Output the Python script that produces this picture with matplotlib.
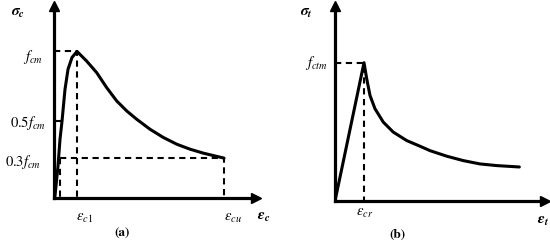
import matplotlib

matplotlib.use("Agg")
import matplotlib.pyplot as plt

plt.rcParams["mathtext.fontset"] = "stix"
plt.rcParams["font.family"] = "STIXGeneral"

W, H = 550, 251

# (a) compression: strain / eps_c1, stress / f_cm
comp_eps = [0.0, 0.043, 0.174, 0.261, 0.348, 0.478, 0.609, 0.783, 1.0,
            1.42, 1.857, 2.29, 2.726, 3.161, 3.596, 4.174, 4.752, 5.335,
            5.913, 6.491, 7.074, 7.391]
comp_sig = [0.0, 0.014, 0.218, 0.401, 0.524, 0.741, 0.878, 0.959, 1.0,
            0.934, 0.855, 0.753, 0.662, 0.594, 0.537, 0.469, 0.413, 0.367,
            0.333, 0.306, 0.284, 0.272]
eps_c1 = 1.0
eps_cu = 7.391
lvl_half = 0.524
lvl_03 = 0.272
eps_03 = 0.261

# (b) tension: strain / eps_cr, stress / f_ctm
tens_eps = [0.0, 1.0, 1.093, 1.207, 1.379, 1.666, 2.01, 2.472, 2.931, 3.276,
            3.852, 4.424, 5.0, 5.576, 6.355]
tens_sig = [0.0, 1.0, 0.884, 0.763, 0.667, 0.570, 0.498, 0.437, 0.396, 0.364,
            0.324, 0.292, 0.268, 0.256, 0.246]
eps_cr = 1.0


def px_axes(fig, x0, y0, x1, y1):
    # axes box from pixel corners (origin at x0,y0, tips at x1,y1)
    return fig.add_axes([x0 / W, 1 - y0 / H, (x1 - x0) / W, (y0 - y1) / H])


def style(ax, xmax, ymax):
    ax.set_xlim(0, xmax)
    ax.set_ylim(0, ymax)
    for s in ("top", "right"):
        ax.spines[s].set_visible(False)
    for s in ("left", "bottom"):
        ax.spines[s].set_linewidth(2.3)
    ax.set_xticks([])
    ax.set_yticks([])
    ax.patch.set_alpha(0)
    ax.plot(1, 0, ">k", ms=7, transform=ax.get_yaxis_transform(), clip_on=False)
    ax.plot(0, 1, "^k", ms=7, transform=ax.get_xaxis_transform(), clip_on=False)


def ftext(x, y, s, **kw):
    kw.setdefault("fontsize", 10.5)
    kw.setdefault("ha", "center")
    kw.setdefault("va", "center")
    fig.text(x / W, 1 - y / H, s, **kw)


fig = plt.figure(figsize=(W / 100, H / 100), dpi=100)

dash = dict(color="k", lw=1.5, ls=(0, (3.0, 2.2)))

ax = px_axes(fig, 54, 199, 256, 7)
style(ax, 8.78, 1.31)
ax.plot(comp_eps, comp_sig, color="k", lw=2.2, solid_capstyle="round",
        solid_joinstyle="round")
ax.plot([0, eps_c1, eps_c1], [1, 1, 0], **dash)
ax.plot([eps_03, eps_cu, eps_cu], [lvl_03, lvl_03, 0], **dash)
ax.plot([eps_03, eps_03], [lvl_03, 0], **dash)
ax.plot([0, eps_03], [lvl_half, lvl_half], color="k", lw=1.5)

ax = px_axes(fig, 335, 202, 545, 7)
style(ax, 7.24, 1.41)
ax.plot(tens_eps, tens_sig, color="k", lw=2.2, solid_capstyle="round",
        solid_joinstyle="round")
ax.plot([0, eps_cr, eps_cr], [1, 1, 0], **dash)

ftext(18, 13, r"$\mathbfit{\sigma}_{\mathbfit{c}}$", fontsize=11)
ftext(43, 57, r"$f_{cm}$", ha="right")
ftext(46, 123, r"$0.5f_{cm}$", ha="right")
ftext(41, 162, r"$0.3f_{cm}$", ha="right")
ftext(85, 218, r"$\varepsilon_{c1}$")
ftext(233, 218, r"$\varepsilon_{cu}$")
ftext(264, 217, r"$\mathbfit{\varepsilon}_{\mathbfit{c}}$", fontsize=11)
ftext(122, 233, "(a)", fontsize=9.5, fontweight="bold")

ftext(306, 13, r"$\mathbfit{\sigma}_{\mathbfit{t}}$", fontsize=11)
ftext(328, 63, r"$f_{ctm}$", ha="right")
ftext(365, 213, r"$\varepsilon_{cr}$")
ftext(543, 221, r"$\mathbfit{\varepsilon}_{\mathbfit{t}}$", fontsize=11)
ftext(397, 235, "(b)", fontsize=9.5, fontweight="bold")

fig.savefig("out.png", dpi=100)
